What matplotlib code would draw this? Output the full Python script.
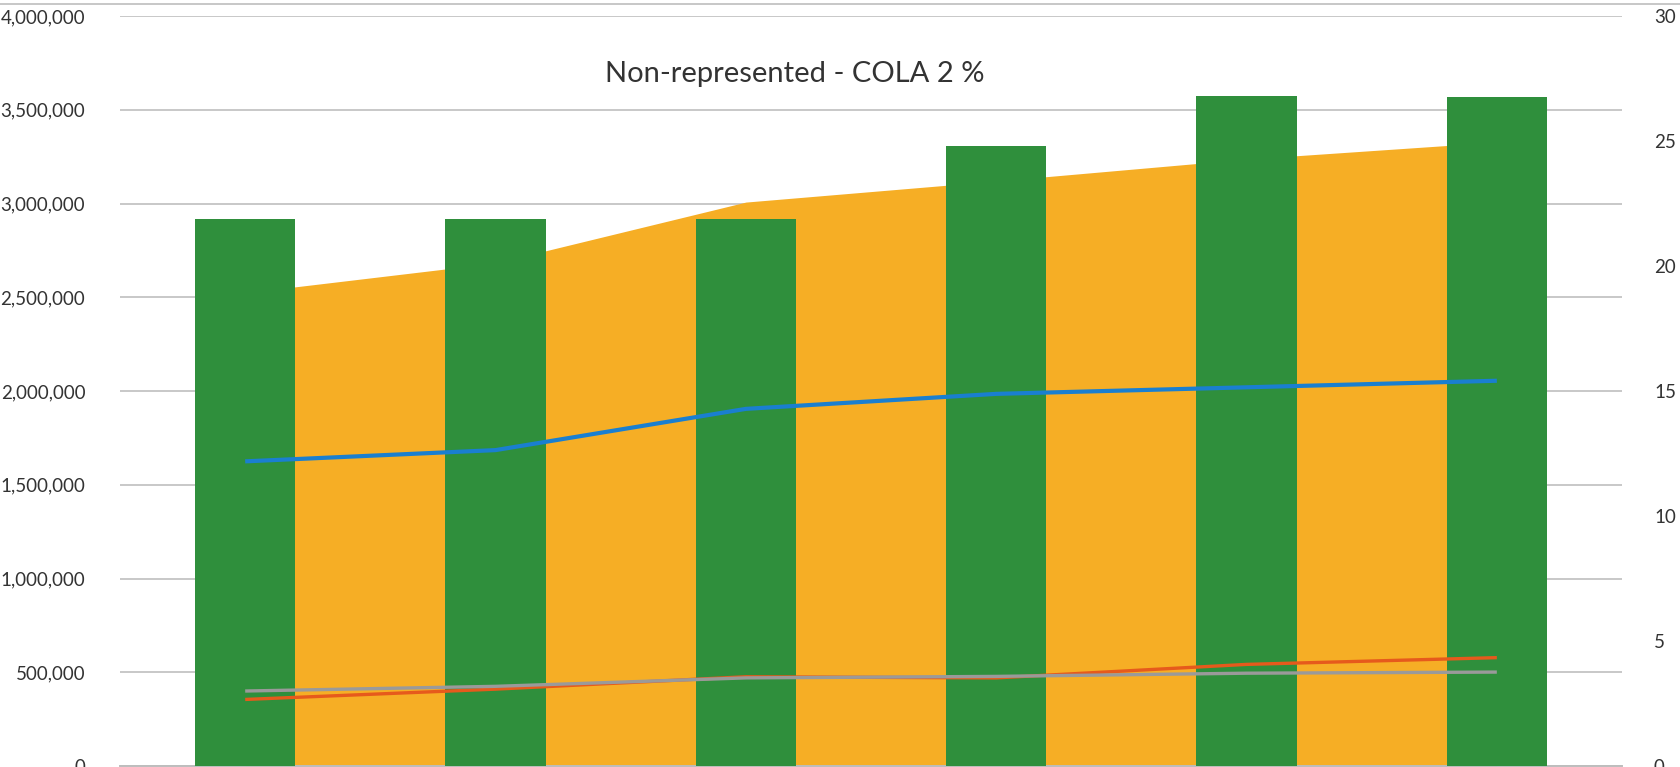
import numpy as np
import matplotlib.pyplot as plt
from matplotlib.lines import Line2D
from matplotlib.ticker import FuncFormatter, MultipleLocator

plt.rcParams['font.family'] = ['Lato', 'DejaVu Sans']

# six periods, left axis in dollars, right axis in FTE
periods = np.arange(6)
total_cost = [2524000, 2683000, 3008000, 3120000, 3237000, 3328000]
fte = [21.9, 21.9, 21.9, 24.8, 26.8, 26.75]
salaries = [1625000, 1685000, 1905000, 1985000, 2020000, 2055000]
benefits = [355000, 410000, 476000, 470000, 542000, 578000]
other = [400000, 425000, 470000, 478000, 495000, 501000]

fig = plt.figure(figsize=(16.81, 7.67), dpi=100)
ax = fig.add_axes([0.0714, 0.0013, 0.8935, 0.9777])

# area (left axis)
ax.fill_between(periods, total_cost, color='#f6ae25', lw=0, zorder=2)
ax.set_ylim(0, 4000000)
ax.set_xlim(-0.5, 5.5)
ax.yaxis.set_major_locator(MultipleLocator(500000))
ax.yaxis.set_major_formatter(FuncFormatter(lambda v, p: f'{int(v):,}'))
ax.grid(axis='y', color='#c8c8c8', lw=1.4, zorder=0)
ax.set_axisbelow(True)
ax.set_xticks([])
ax.tick_params(axis='y', length=0, pad=25, labelsize=13.5, labelcolor='#333333')
for s in ['top', 'left', 'right']:
    ax.spines[s].set_visible(False)
ax.spines['bottom'].set_color('#bdbdbd')
ax.spines['bottom'].set_linewidth(1.4)

# bars (right axis)
ax2 = ax.twinx()
ax2.bar(periods, fte, width=0.4, color='#2f8f3c', zorder=3)
ax2.set_ylim(0, 30)
ax2.yaxis.set_major_locator(MultipleLocator(5))
ax2.tick_params(axis='y', length=0, pad=23, labelsize=13.5, labelcolor='#333333')
for s in ax2.spines.values():
    s.set_visible(False)

# lines on top, same scale as the left axis
ax3 = ax.twinx()
ax3.set_ylim(ax.get_ylim())
ax3.set_yticks([])
for s in ax3.spines.values():
    s.set_visible(False)
ax3.plot(periods, salaries, color='#1a7fd0', lw=3.0, solid_capstyle='butt')
ax3.plot(periods, benefits, color='#e65a1c', lw=2.4, solid_capstyle='butt')
ax3.plot(periods, other, color='#9a9a9a', lw=2.4, solid_capstyle='butt')

fig.text(0.473, 0.903, 'Non-represented - COLA 2 %', ha='center', va='center',
         fontsize=21, color='#333333')

# chart border at the very top
fig.add_artist(Line2D([0, 1], [0.995, 0.995], color='#bdbdbd', lw=1.2))

fig.savefig('out.png', dpi=100, facecolor='white')
